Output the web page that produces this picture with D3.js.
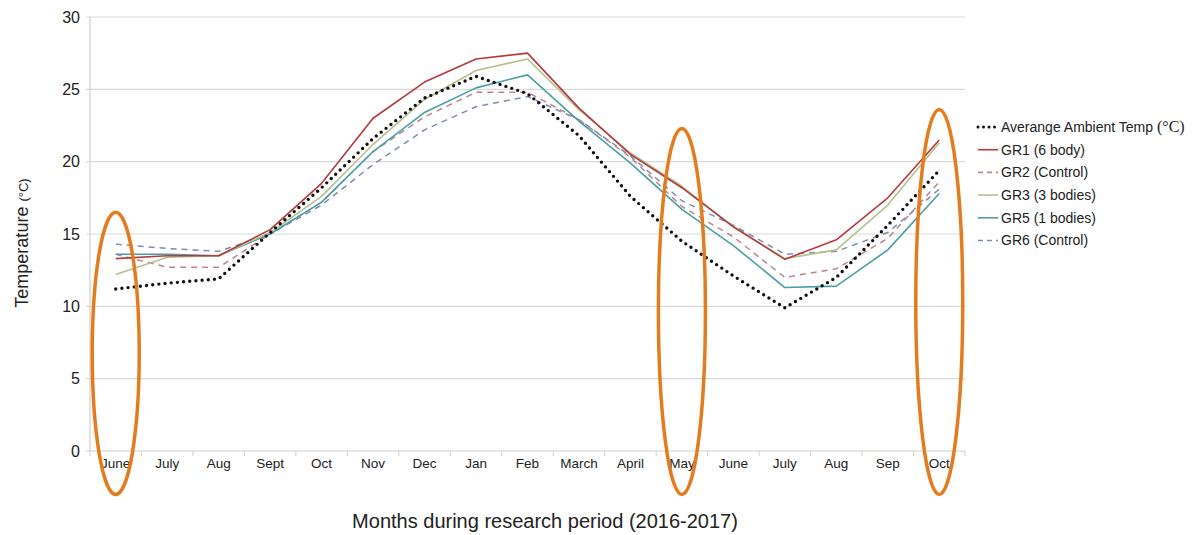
<!DOCTYPE html>
<html>
<head>
<meta charset="utf-8">
<script src="https://cdn.jsdelivr.net/npm/d3@7/dist/d3.min.js"></script>
<style>
  html, body { margin: 0; padding: 0; background: #ffffff; }
  svg { display: block; font-family: "Liberation Sans", Arial, sans-serif; }
</style>
</head>
<body>
<svg id="chart" width="1200" height="535"></svg>
<script>
// Month labels along the research period (June 2016 – Oct 2017)
const months = ["June", "July", "Aug", "Sept", "Oct", "Nov", "Dec", "Jan", "Feb",
                "March", "April", "May", "June", "July", "Aug", "Sep", "Oct"];

// Monthly mean temperatures (°C)
const ambient = [11.2, 11.6, 11.9, 15.1, 18.2, 21.6, 24.4, 25.9, 24.7, 21.8, 17.6, 14.5, 12.1, 9.9, 12.0, 15.6, 19.4];
const gr1     = [13.3, 13.5, 13.5, 15.3, 18.5, 23.0, 25.5, 27.1, 27.5, 23.7, 20.5, 18.2, 15.5, 13.25, 14.6, 17.5, 21.5];
const gr2     = [13.6, 12.7, 12.7, 15.0, 17.2, 20.7, 23.1, 24.8, 24.8, 22.9, 20.3, 16.9, 14.8, 12.0, 12.6, 14.7, 18.6];
const gr3     = [12.2, 13.4, 13.5, 15.1, 17.6, 21.2, 24.3, 26.3, 27.1, 23.6, 20.6, 18.3, 15.5, 13.3, 13.9, 17.0, 21.3];
const gr5     = [13.6, 13.6, 13.5, 15.0, 17.2, 20.7, 23.4, 25.1, 26.0, 22.8, 19.9, 16.7, 14.2, 11.3, 11.4, 13.9, 17.8];
const gr6     = [14.3, 14.0, 13.8, 15.0, 17.0, 19.8, 22.2, 23.8, 24.5, 22.9, 20.4, 17.3, 15.6, 13.6, 13.8, 15.1, 18.1];

const yTicks = [0, 5, 10, 15, 20, 25, 30];

// Highlighted months (index, top of the ring in °C)
const highlightIdx = [0, 11, 16];
const highlightTop = [16.5, 22.3, 23.6];
const highlightBottom = -3.0;

const series = [
  { name: "Averange Ambient Temp ", unit: "(°C)", values: ambient, color: "#111111", width: 3.4, dash: "0,6.2", cap: "round" },
  { name: "GR1 (6 body)",    values: gr1, color: "#b23b3f", width: 1.6, dash: null },
  { name: "GR2 (Control)",   values: gr2, color: "#b9868b", width: 1.5, dash: "6,5" },
  { name: "GR3 (3 bodies)",  values: gr3, color: "#b6c08f", width: 1.6, dash: null },
  { name: "GR5 (1 bodies)",  values: gr5, color: "#4c9ea6", width: 1.6, dash: null },
  { name: "GR6 (Control)",   values: gr6, color: "#7f8bb0", width: 1.5, dash: "6,5" }
];

const svg = d3.select("#chart");
const plotL = 90, plotR = 965, plotT = 17, plotB = 451;

const x = d3.scalePoint().domain(d3.range(months.length)).range([plotL, plotR]).padding(0.5);
const y = d3.scaleLinear().domain([0, 30]).range([plotB, plotT]);
const step = x.step();

// Horizontal gridlines
svg.append("g").selectAll("line").data(yTicks.filter(d => d > 0)).join("line")
  .attr("x1", plotL - 4).attr("x2", plotR)
  .attr("y1", d => y(d)).attr("y2", d => y(d))
  .attr("stroke", "#d9d9d9").attr("stroke-width", 1.2);

// Axis lines
svg.append("line").attr("x1", plotL).attr("x2", plotL).attr("y1", plotT).attr("y2", plotB)
  .attr("stroke", "#d0d0d0").attr("stroke-width", 1.2);
svg.append("line").attr("x1", plotL - 4).attr("x2", plotR).attr("y1", plotB).attr("y2", plotB)
  .attr("stroke", "#d0d0d0").attr("stroke-width", 1.2);

// X tick marks at category boundaries
svg.append("g").selectAll("line").data(d3.range(months.length + 1)).join("line")
  .attr("x1", i => plotL + i * step).attr("x2", i => plotL + i * step)
  .attr("y1", plotB).attr("y2", plotB + 5)
  .attr("stroke", "#d0d0d0").attr("stroke-width", 1);

// Y tick labels
svg.append("g").selectAll("text").data(yTicks).join("text")
  .attr("x", plotL - 10).attr("y", d => y(d)).attr("dy", "0.35em")
  .attr("text-anchor", "end").attr("font-size", 16).attr("fill", "#222")
  .text(d => d);

// X tick labels
svg.append("g").selectAll("text").data(months).join("text")
  .attr("x", (d, i) => x(i)).attr("y", plotB + 17)
  .attr("text-anchor", "middle").attr("font-size", 13.5).attr("fill", "#222")
  .text(d => d);

// Axis titles
const yt = svg.append("text")
  .attr("transform", "translate(28,243) rotate(-90)")
  .attr("text-anchor", "middle").attr("fill", "#222");
yt.append("tspan").attr("font-size", 18).text("Temperature ");
yt.append("tspan").attr("font-size", 13).text("(°C)");

svg.append("text").attr("x", 545).attr("y", 528)
  .attr("text-anchor", "middle").attr("font-size", 20).attr("fill", "#222")
  .text("Months during research period (2016-2017)");

// Series lines
const line = d3.line().x((d, i) => x(i)).y(d => y(d));
const drawOrder = [5, 2, 4, 3, 1, 0];
drawOrder.forEach(k => {
  const s = series[k];
  svg.append("path").datum(s.values)
    .attr("d", line).attr("fill", "none")
    .attr("stroke", s.color).attr("stroke-width", s.width)
    .attr("stroke-dasharray", s.dash)
    .attr("stroke-linecap", s.cap || "butt")
    .attr("stroke-linejoin", "round");
});

// Legend
const lg = svg.append("g").attr("transform", "translate(978,127)");
series.forEach((s, i) => {
  const row = lg.append("g").attr("transform", `translate(0,${i * 22.7})`);
  row.append("line").attr("x1", 0).attr("x2", 20).attr("y1", 0).attr("y2", 0)
    .attr("stroke", s.color).attr("stroke-width", s.cap ? 3 : 1.6)
    .attr("stroke-dasharray", s.cap ? "0,5.5" : (s.dash ? "5,4" : null))
    .attr("stroke-linecap", s.cap || "butt");
  const t = row.append("text").attr("x", 23).attr("dy", "0.35em")
    .attr("font-size", 14).attr("fill", "#222");
  t.append("tspan").text(s.name);
  if (s.unit) t.append("tspan").attr("font-family", "'Liberation Serif', 'Times New Roman', serif")
    .attr("font-size", 16).text(s.unit);
});

// Orange rings around the highlighted months
svg.append("g").selectAll("ellipse").data(highlightIdx).join("ellipse")
  .attr("cx", d => x(d))
  .attr("cy", (d, i) => (y(highlightTop[i]) + y(highlightBottom)) / 2)
  .attr("rx", 23.5)
  .attr("ry", (d, i) => (y(highlightBottom) - y(highlightTop[i])) / 2)
  .attr("fill", "none").attr("stroke", "#e47c1e").attr("stroke-width", 3.5);
</script>
</body>
</html>
